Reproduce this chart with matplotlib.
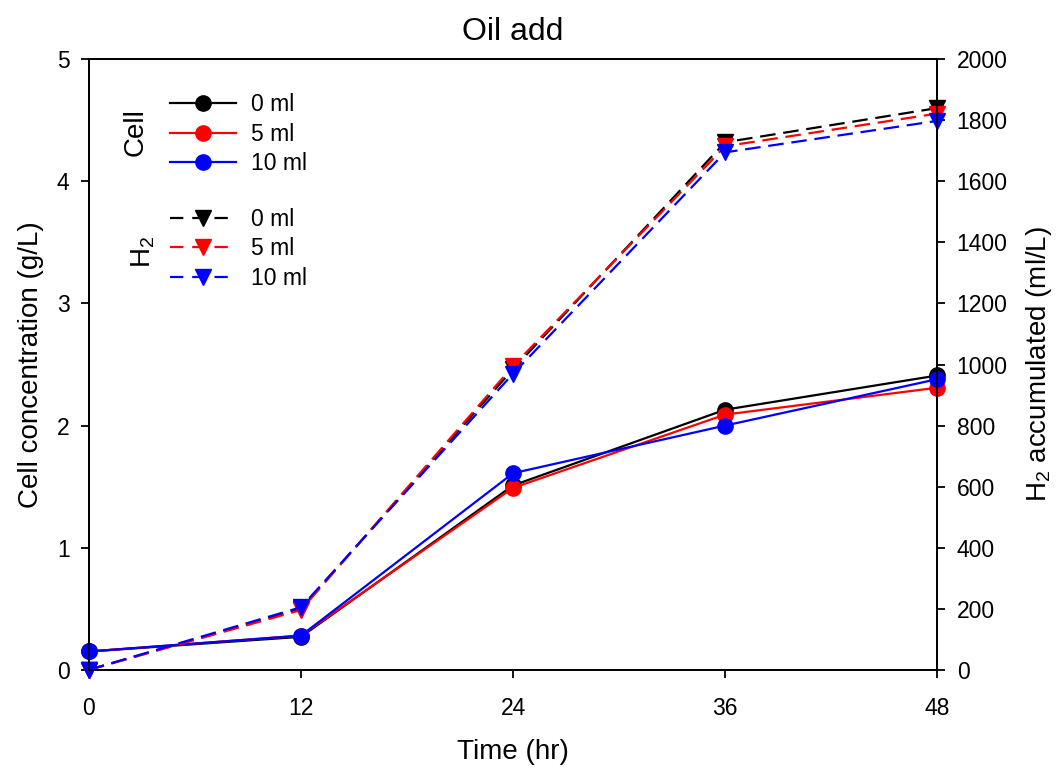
import numpy as np
import matplotlib.pyplot as plt
from matplotlib.lines import Line2D

plt.rcParams['font.family'] = ['Liberation Sans', 'DejaVu Sans']
plt.rcParams['mathtext.fontset'] = 'custom'
plt.rcParams['mathtext.rm'] = 'Liberation Sans'

time = [0, 12, 24, 36, 48]
oil = ['0 ml', '5 ml', '10 ml']
colors = ['black', 'red', 'blue']

# cell concentration (g/L)
cell_0 = [0.15, 0.27, 1.51, 2.13, 2.41]
cell_5 = [0.15, 0.28, 1.49, 2.09, 2.31]
cell_10 = [0.15, 0.28, 1.61, 2.00, 2.38]

# H2 accumulated (ml/L)
h2_0 = [0, 200, 985, 1728, 1840]
h2_5 = [0, 196, 995, 1715, 1822]
h2_10 = [0, 205, 970, 1695, 1798]

cells = [cell_0, cell_5, cell_10]
h2s = [h2_0, h2_5, h2_10]

fig = plt.figure(figsize=(10.59, 7.69), dpi=100)
ax = fig.add_axes([0.084, 0.129, 0.801, 0.794])
ax2 = ax.twinx()

for c, col in zip(cells, colors):
    ax.plot(time, c, '-', color=col, lw=1.6, marker='o', ms=11, zorder=3,
            clip_on=False)
for h, col in zip(h2s, colors):
    ax2.plot(time, h, color=col, lw=1.6, ls=(0, (7, 3.5)), marker='v', ms=11,
             clip_on=False)

ax.set_xlim(0, 48)
ax.set_ylim(0, 5)
ax2.set_ylim(0, 2000)
ax.set_xticks(time)
ax.set_yticks(np.arange(0, 6, 1))
ax2.set_yticks(np.arange(0, 2001, 200))

for a in (ax, ax2):
    a.tick_params(direction='out', length=5.5, width=1.3, labelsize=16.5, pad=8.5)
    for s in a.spines.values():
        s.set_linewidth(1.3)
ax.tick_params(axis='x', pad=14)

ax.set_xlabel('Time (hr)', fontsize=20, labelpad=14)
ax.set_ylabel('Cell concentration (g/L)', fontsize=20, labelpad=9)
ax2.set_ylabel('H$_\\mathregular{2}$ accumulated (ml/L)', fontsize=20, labelpad=12)
ax.set_title('Oil add', fontsize=23, pad=14)

cell_handles = [Line2D([], [], color=col, lw=1.6, marker='o', ms=11) for col in colors]
h2_handles = [Line2D([], [], color=col, lw=1.6, ls=(0, (6, 4)), marker='v', ms=11)
              for col in colors]
leg_kw = dict(loc='upper left', bbox_transform=fig.transFigure, frameon=False,
              fontsize=16.5, handlelength=2.9, labelspacing=0.29, handletextpad=0.65,
              borderpad=0, borderaxespad=0)
leg1 = ax2.legend(cell_handles, oil, bbox_to_anchor=(0.1605, 0.879), **leg_kw)
ax2.add_artist(leg1)
ax2.legend(h2_handles, oil, bbox_to_anchor=(0.1605, 0.730), **leg_kw)
fig.text(0.128, 0.828, 'Cell', rotation=90, fontsize=20, ha='center', va='center')
fig.text(0.135, 0.673, 'H$_\\mathregular{2}$', rotation=90, fontsize=20,
         ha='center', va='center')

fig.savefig('out.png', dpi=100)
